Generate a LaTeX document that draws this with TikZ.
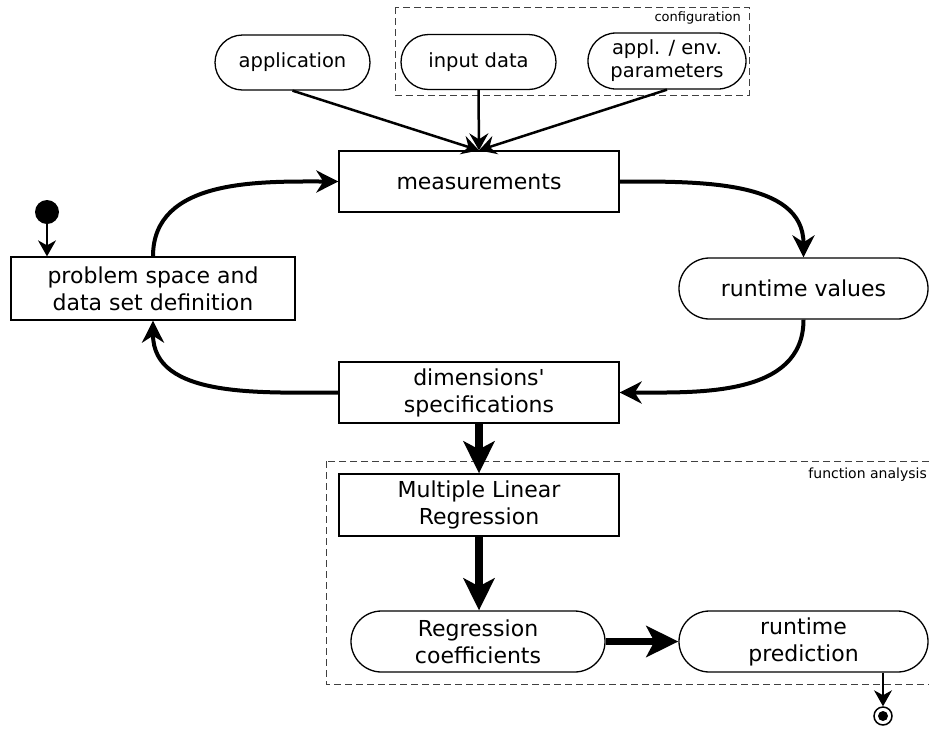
\documentclass[tikz,border=0pt]{standalone}
\usepackage{fontspec}
\setmainfont{DejaVu Sans}
\usetikzlibrary{arrows.meta,shapes.misc}

\tikzset{
  big/.style={font=\fontsize{22}{27}\selectfont, align=center, inner sep=0pt},
  small/.style={font=\fontsize{19.5}{23}\selectfont, align=center, inner sep=0pt},
  note/.style={font=\fontsize{14}{16}\selectfont, inner sep=0pt},
  box/.style={big, draw, line width=1.3pt, rectangle, minimum width=280pt, minimum height=61pt},
  pill/.style={big, draw, line width=1.3pt, rounded rectangle, minimum height=61pt},
  srcpill/.style={small, draw, line width=1.3pt, rounded rectangle, minimum height=55pt},
  group/.style={draw=black!75, line width=1pt, dash pattern=on 7pt off 4pt},
  feed/.style={line width=2.5pt, -{Stealth[length=17pt, width=19pt, inset=6pt]}},
  loop/.style={line width=4pt, -{Stealth[length=22pt, width=22pt, inset=7pt]}},
  heavy/.style={line width=7.5pt, -{Stealth[length=32pt, width=31pt, inset=8pt]}},
  thin/.style={line width=1.2pt, -{Stealth[length=16pt, width=18pt, inset=5pt]}},
}

\begin{document}
\begin{tikzpicture}[x=1pt, y=1pt]
  \clip (0,0) rectangle (929,-729);
  \fill[white] (0,0) rectangle (929,-729);

  % configuration group
  \draw[group] (395,-7) rectangle (749,-95);
  \node[note, font=\fontsize{13}{15}\selectfont, anchor=north east] (cfglabel) at (741,-11) {configuration};

  % function analysis group (runs off the right edge)
  \draw[group] (326,-461) rectangle (960,-684);
  \node[note, anchor=north east] (falabel) at (927,-468) {function analysis};

  % sources
  \node[srcpill, minimum width=155pt] (app) at (292.5,-62.5) {application};
  \node[srcpill, minimum width=155pt] (input) at (478.5,-62) {input data};
  \node[srcpill, minimum width=158pt, minimum height=56pt] (params) at (667,-61) {appl. / env.\\parameters};

  % main cycle
  \node[box] (meas) at (479,-181.5) {measurements};
  \node[box, minimum width=284pt, minimum height=63pt] (prob) at (153,-288.5) {problem space and\\data set definition};
  \node[pill, minimum width=249pt] (rtv) at (803.5,-288.5) {runtime values};
  \node[box] (dims) at (479,-392.5) {dimensions\textquotesingle\\specifications};

  % function analysis
  \node[box, minimum height=62pt] (mlr) at (479,-505) {Multiple Linear\\Regression};
  \node[pill, minimum width=254pt] (regc) at (478,-641.5) {Regression\\coefficients};
  \node[pill, minimum width=249pt] (pred) at (803.5,-641.5) {runtime\\prediction};

  % start and end markers
  \node[circle, fill=black, minimum size=24pt, inner sep=0pt] (start) at (47,-212) {};
  \node[circle, draw, line width=1.5pt, minimum size=18pt, inner sep=0pt] (stop) at (883,-716) {};
  \fill (stop.center) circle (5pt);

  % inputs into measurements
  \draw[feed] (app.south) -- (meas.north);
  \draw[feed] (input.south) -- (meas.north);
  \draw[feed] (params.south) -- (meas.north);

  % cycle
  \draw[loop] (meas.east) to[out=0, in=90] (rtv.north);
  \draw[loop] (rtv.south) to[out=-90, in=0] (dims.east);
  \draw[loop] (dims.west) to[out=180, in=-90] (prob.south);
  \draw[loop] (prob.north) to[out=90, in=180] (meas.west);

  % analysis chain
  \draw[heavy] (dims.south) -- (mlr.north);
  \draw[heavy] (mlr.south) -- (regc.north -| mlr.south);
  \draw[heavy] (regc.east) -- (pred.west);

  % start / end
  \draw[thin] (start.south) -- (start |- prob.north);
  \draw[thin] (stop |- pred.south) -- (stop.north);
\end{tikzpicture}
\end{document}
